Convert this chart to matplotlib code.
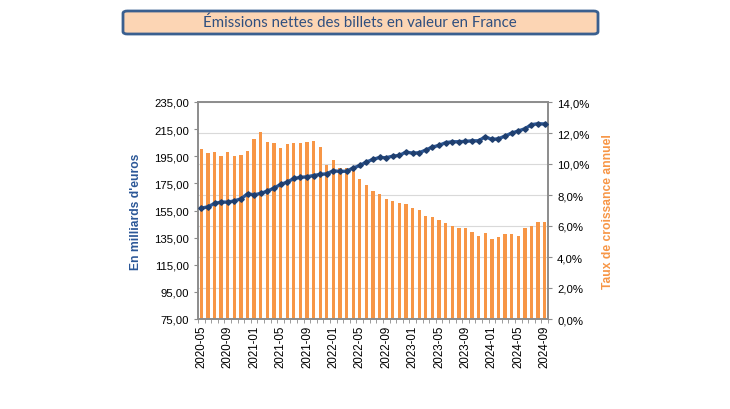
import matplotlib
matplotlib.use("Agg")
import matplotlib.pyplot as plt
from matplotlib.patches import FancyBboxPatch
from matplotlib.ticker import FixedLocator

months = [f"{y}-{m:02d}" for y in range(2020, 2025) for m in range(1, 13)]
months = months[months.index("2020-05"):months.index("2024-09") + 1]

emissions = [156.7, 157.7, 160.2, 161.2, 161.2, 162.1, 163.6, 167.3, 166.6, 167.6,
             169.3, 171.5, 174.2, 175.9, 178.6, 179.4, 179.9, 180.8, 181.6, 182.1,
             184.3, 183.8, 184.0, 186.3, 188.2, 190.7, 192.7, 194.1, 193.9, 195.1,
             195.6, 198.1, 197.3, 197.6, 199.6, 201.8, 203.0, 205.0, 205.7, 205.7,
             206.0, 206.4, 206.4, 209.4, 207.4, 207.9, 209.9, 212.1, 213.6, 215.3,
             218.3, 219.0, 218.8]

growth = [10.95, 10.69, 10.80, 10.54, 10.75, 10.50, 10.60, 10.82, 11.60, 12.05,
          11.40, 11.36, 11.01, 11.27, 11.34, 11.38, 11.44, 11.51, 11.12, 9.91,
          10.28, 9.76, 9.72, 9.61, 9.01, 8.64, 8.29, 8.08, 7.76, 7.63,
          7.50, 7.39, 7.13, 7.03, 6.64, 6.57, 6.36, 6.21, 5.97, 5.84,
          5.88, 5.60, 5.34, 5.54, 5.19, 5.32, 5.47, 5.50, 5.37, 5.84,
          6.03, 6.29, 6.29]

left_ticks = [75, 95, 115, 135, 155, 175, 195, 215, 235]
right_ticks = [0, 2, 4, 6, 8, 10, 12, 14]

title = "Émissions nettes des billets en valeur en France"
left_label = "En milliards d'euros"
right_label = "Taux de croissance annuel"

BLUE = "#2B5797"
ORANGE = "#F79646"
GRAY = "#8C8C8C"

plt.rcParams['font.family'] = ['Liberation Sans', 'DejaVu Sans']

fig = plt.figure(figsize=(7.3, 4.1), dpi=100)
ax2 = fig.add_axes([198/730, 1-320/410, 350/730, 217/410])
ax = ax2.twinx()

x = list(range(len(months)))

ax2.bar(x, growth, width=0.5, color=ORANGE, zorder=2)
ax2.set_ylim(0, 14)
ax2.yaxis.tick_right()
ax2.yaxis.set_label_position("right")
ax2.set_yticks(right_ticks)
ax2.set_yticklabels([f"{v:.1f}%".replace(".", ",") for v in right_ticks], fontsize=8.2)
ax2.set_ylabel(right_label, color=ORANGE, fontsize=8.7, fontweight='bold', labelpad=9)
ax2.grid(axis='y', color='#D9D9D9', linewidth=0.8, zorder=0)
ax2.set_axisbelow(True)

ax.plot(x, emissions, color=BLUE, linewidth=2.4, marker='D', markersize=2.8,
        markerfacecolor="#1F3F6F", markeredgecolor="#1F3F6F", zorder=3)
ax.set_ylim(75, 235)
ax.yaxis.tick_left()
ax.yaxis.set_label_position("left")
ax.set_yticks(left_ticks)
ax.set_yticklabels([f"{v:.2f}".replace(".", ",") for v in left_ticks], fontsize=8.2)
ax.set_ylabel(left_label, color=BLUE, fontsize=8.7, fontweight='bold', labelpad=9)

ax.set_xlim(-0.5, len(months) - 0.5)
ax2.set_xlim(-0.5, len(months) - 0.5)
major = list(range(0, len(months), 4))
ax2.set_xticks(major)
ax2.set_xticklabels([months[i] for i in major], rotation=90, fontsize=8.3)
ax2.xaxis.set_minor_locator(FixedLocator([i - 0.5 for i in range(len(months) + 1)]))
ax2.tick_params(axis='x', which='major', length=0, pad=4)
ax2.tick_params(axis='x', which='minor', length=3, color=GRAY)
ax2.tick_params(axis='y', length=3, color=GRAY)
ax.tick_params(axis='y', length=3, color=GRAY)
ax.tick_params(axis='x', length=0)

for a in (ax, ax2):
    for s in a.spines.values():
        s.set_color(GRAY)
        s.set_linewidth(1.2)

box = FancyBboxPatch((123/730, 1-35/410), 475/730, 23/410,
                     boxstyle="round,pad=0,rounding_size=0.006",
                     transform=fig.transFigure, facecolor="#FCD5B4",
                     edgecolor="#3A5F8F", linewidth=2)
fig.patches.append(box)
fig.text(360/730, 1-23/410, title, ha='center', va='center', fontsize=10.8,
         color="#2F4F7F", family=['Lato', 'DejaVu Sans'])

fig.savefig("out.png", dpi=100)
